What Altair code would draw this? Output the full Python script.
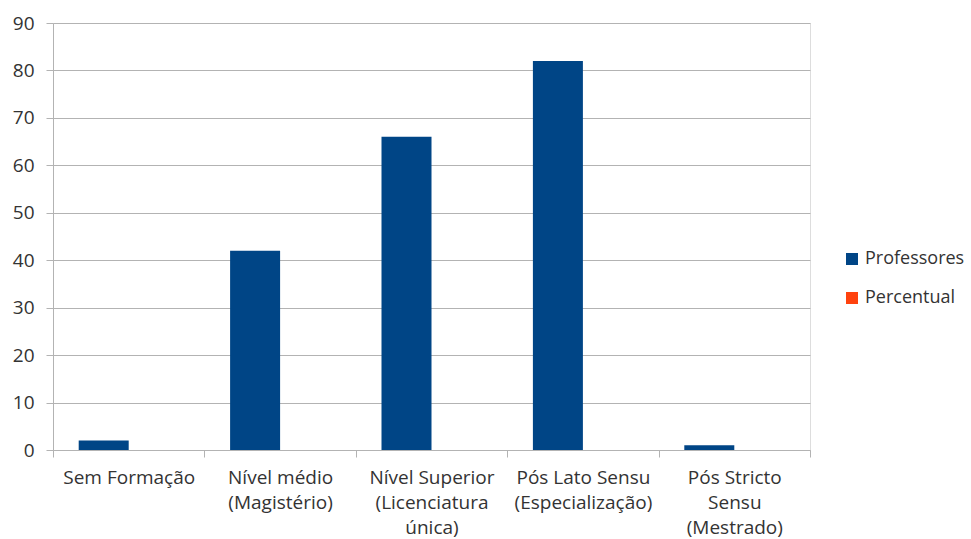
import altair as alt
import pandas as pd

# Teacher qualification levels ("|" marks a line break in the axis label)
categorias = [
    "Sem Formação",
    "Nível médio|(Magistério)",
    "Nível Superior|(Licenciatura|única)",
    "Pós Lato Sensu|(Especialização)",
    "Pós Stricto|Sensu|(Mestrado)",
]
professores = [2, 42, 66, 82, 1]
# second series is empty in the source table
percentual = [0, 0, 0, 0, 0]

series = ["Professores", "Percentual"]
cores = ["#004586", "#ff420e"]

rows = []
for cat, p, pc in zip(categorias, professores, percentual):
    rows.append({"categoria": cat, "serie": "Professores", "valor": p})
    rows.append({"categoria": cat, "serie": "Percentual", "valor": pc})
df = pd.DataFrame(rows)

FONT = "Open Sans"
FS = 19
GRAY = "#b3b3b3"
TEXT = "#333333"

chart = (
    alt.Chart(df)
    .mark_bar()
    .encode(
        x=alt.X(
            "categoria:N",
            sort=categorias,
            scale=alt.Scale(paddingInner=0, paddingOuter=0),
            axis=alt.Axis(
                title=None,
                labelAngle=0,
                labelExpr="split(datum.label, '|')",
                tickBand="extent",
                tickSize=7,
                tickColor=GRAY,
                domainColor=GRAY,
                labelPadding=11,
                labelLineHeight=25,
                labelFontSize=FS,
                labelFont=FONT,
                labelColor=TEXT,
                labelLimit=220,
            ),
        ),
        xOffset=alt.XOffset(
            "serie:N",
            sort=series,
            scale=alt.Scale(paddingInner=0, paddingOuter=0.514),
        ),
        y=alt.Y(
            "valor:Q",
            scale=alt.Scale(domain=[0, 90], nice=False),
            axis=alt.Axis(
                title=None,
                values=list(range(0, 91, 10)),
                tickSize=7,
                tickColor=GRAY,
                domainColor=GRAY,
                gridColor=GRAY,
                labelPadding=12,
                labelFontSize=FS,
                labelFont=FONT,
                labelColor=TEXT,
            ),
        ),
        color=alt.Color(
            "serie:N",
            sort=series,
            scale=alt.Scale(domain=series, range=cores),
            legend=alt.Legend(
                title=None,
                orient="none",
                legendX=790,
                legendY=227,
                symbolType="square",
                symbolSize=144,
                symbolStrokeWidth=0,
                labelFontSize=18,
                labelFont=FONT,
                labelColor=TEXT,
                rowPadding=21,
                labelOffset=4,
            ),
        ),
    )
    .properties(
        width=757,
        height=427,
        padding={"left": 53, "top": 23, "right": 161, "bottom": 89},
        autosize=alt.AutoSizeParams(type="none"),
    )
    .configure_view(stroke=None)
    .configure(background="white")
)

chart.save("out.html", embed_options={"renderer": "svg", "actions": False})
